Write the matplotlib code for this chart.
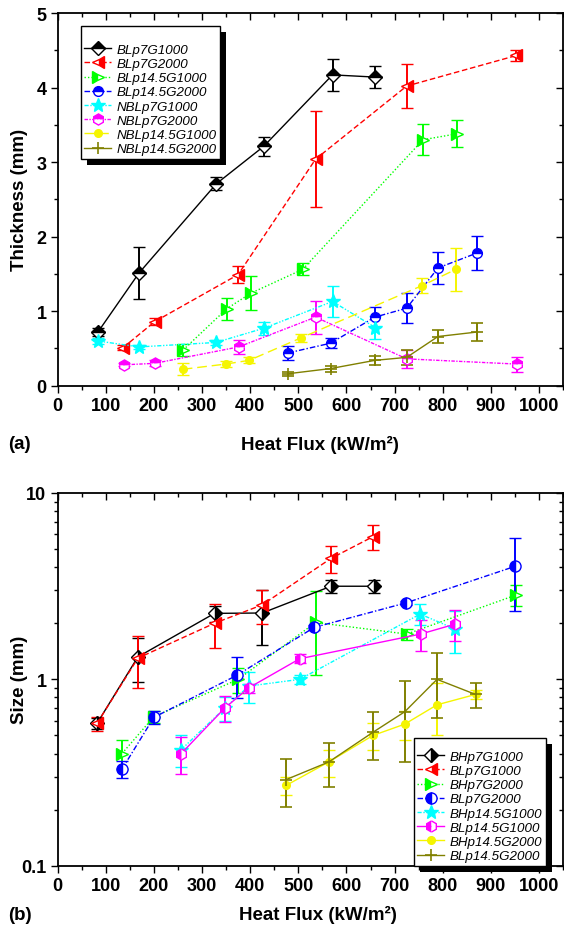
import matplotlib
matplotlib.use("Agg")
import matplotlib.pyplot as plt
from matplotlib.patches import Rectangle
from matplotlib.ticker import MultipleLocator, FixedLocator, LogLocator, NullFormatter, FixedFormatter

plt.rcParams['font.family'] = ['Liberation Sans', 'DejaVu Sans']

# ---------------- Panel (a): Thickness ----------------
a_labels = ["BLp7G1000", "BLp7G2000", "BLp14.5G1000", "BLp14.5G2000",
            "NBLp7G1000", "NBLp7G2000", "NBLp14.5G1000", "NBLp14.5G2000"]
a_x = [
    [84, 169, 330, 428, 571, 660],
    [136, 202, 375, 536, 725, 953],
    [261, 351, 401, 509, 759, 830],
    [479, 567, 659, 725, 790, 871],
    [84, 169, 329, 428, 571, 660],
    [138, 202, 376, 536, 725, 954],
    [260, 349, 398, 505, 756, 827],
    [478, 567, 659, 725, 790, 871],
]
a_y = [
    [0.72, 1.51, 2.71, 3.21, 4.17, 4.14],
    [0.51, 0.86, 1.49, 3.04, 4.02, 4.43],
    [0.48, 1.03, 1.24, 1.56, 3.30, 3.38],
    [0.44, 0.57, 0.92, 1.04, 1.58, 1.78],
    [0.60, 0.52, 0.58, 0.77, 1.13, 0.78],
    [0.28, 0.30, 0.52, 0.92, 0.36, 0.29],
    [0.22, 0.29, 0.34, 0.64, 1.34, 1.56],
    [0.16, 0.23, 0.34, 0.38, 0.66, 0.72],
]
a_err = [
    [0.05, 0.35, 0.09, 0.13, 0.21, 0.15],
    [0.03, 0.05, 0.11, 0.64, 0.29, 0.07],
    [0.08, 0.15, 0.23, 0.08, 0.21, 0.18],
    [0.09, 0.07, 0.13, 0.20, 0.21, 0.23],
    [0.04, 0.03, 0.03, 0.09, 0.21, 0.16],
    [0.02, 0.04, 0.09, 0.22, 0.12, 0.10],
    [0.08, 0.04, 0.04, 0.06, 0.10, 0.29],
    [0.03, 0.04, 0.06, 0.10, 0.085, 0.12],
]

# ---------------- Panel (b): Size ----------------
b_labels = ["BHp7G1000", "BLp7G1000", "BHp7G2000", "BLp7G2000",
            "BHp14.5G1000", "BLp14.5G1000", "BHp14.5G2000", "BLp14.5G2000"]
b_x = [
    [82, 167, 326, 425, 568, 657],
    [82, 167, 326, 425, 568, 655],
    [134, 200, 375, 536, 725, 953],
    [134, 200, 372, 533, 723, 950],
    [257, 347, 397, 503, 753, 826],
    [257, 347, 397, 503, 754, 826],
    [475, 563, 655, 721, 788, 868],
    [475, 563, 655, 721, 788, 868],
]
b_y = [
    [0.58, 1.32, 2.26, 2.27, 3.16, 3.16],
    [0.58, 1.30, 2.00, 2.51, 4.46, 5.83],
    [0.40, 0.63, 1.00, 2.02, 1.75, 2.84],
    [0.33, 0.625, 1.05, 1.90, 2.57, 4.04],
    [0.42, 0.70, 0.92, 1.00, 2.24, 1.86],
    [0.40, 0.70, 0.90, 1.29, 1.75, 1.98],
    [0.27, 0.36, 0.50, 0.575, 0.73, 0.83],
    [0.29, 0.36, 0.52, 0.67, 1.00, 0.83],
]
b_err = [
    [0.04, 0.35, 0.23, 0.74, 0.26, 0.26],
    [0.05, 0.40, 0.53, 0.52, 0.73, 0.88],
    [0.07, 0.05, 0.15, 0.96, 0.12, 0.37],
    [0.035, 0.05, 0.26, 0.05, 0.05, 1.70],
    [0.08, 0.10, 0.17, 0.06, 0.29, 0.48],
    [0.09, 0.11, 0.05, 0.07, 0.33, 0.37],
    [0.03, 0.06, 0.08, 0.10, 0.23, 0.05],
    [0.084, 0.094, 0.15, 0.31, 0.38, 0.125],
]

x_ticks = [0, 100, 200, 300, 400, 500, 600, 700, 800, 900, 1000]

colors = ['#000000', '#ff0000', '#00ff00', '#0000ff', '#00ffff', '#ff00ff', '#f5f500', '#808000']
a_markers = ['D', '<', '>', 'o', '*', 'h', 'o', '+']
a_fill = ['top', 'right', 'left', 'top', 'full', 'top', 'full', 'full']
a_ms = [7, 8, 8, 7, 10, 8, 5.5, 9]
a_ls = ['-', (0, (4, 2)), (0, (1, 1.5)), (0, (4, 1.5, 1, 1.5)), (0, (3, 1.2, 1, 1.2, 1, 1.2)),
        (0, (2.5, 1, 1, 1)), (0, (7, 3.5)), '-']
b_markers = ['D', '<', '>', 'o', '*', 'h', 'o', '+']
b_fill = ['right', 'right', 'left', 'left', 'full', 'left', 'full', 'full']
b_ms = [7, 8, 8, 8, 10, 8, 5.5, 9]
b_ls = ['-', (0, (4, 2)), (0, (1, 1.5)), (0, (4, 1.5, 1, 1.5)), (0, (3, 1.2, 1, 1.2, 1, 1.2)),
        '-', '-', '-']

W, H = 564, 929
fig = plt.figure(figsize=(W / 100, H / 100), dpi=100)
left_px = 57.5
xmax = 1050
ax_w = 505.7
ax_h = 372.7
axa = fig.add_axes([left_px / W, 1 - 386.7 / H, ax_w / W, ax_h / H])
axb = fig.add_axes([left_px / W, 1 - 866.7 / H, ax_w / W, ax_h / H])


def draw_series(ax, xs, ys, es, labels, markers, fills, ls_list, ms_list):
    handles = []
    for i in range(len(xs)):
        c = colors[i]
        mk = markers[i]
        fill = fills[i]
        ms = ms_list[i]
        kw = dict(color=c, lw=1.0, ls=ls_list[i], marker=mk, ms=ms,
                  markeredgecolor=c, markeredgewidth=1.0)
        if fill != 'full':
            kw.update(fillstyle=fill, markerfacecolor=c, markerfacecoloralt='white')
        else:
            kw.update(markerfacecolor=c)
        if mk == '+':
            kw.update(markeredgewidth=1.2)
        eb = ax.errorbar(xs[i], ys[i], yerr=es[i], ecolor=c, elinewidth=1.4,
                         capsize=4.2, capthick=1.2, label=labels[i], zorder=3, **kw)
        handles.append(eb[0])
    return handles


def style_axes(ax, log=False):
    for sp in ax.spines.values():
        sp.set_linewidth(1.3)
    ax.set_xlim(0, xmax)
    ax.xaxis.set_major_locator(FixedLocator(x_ticks))
    ax.xaxis.set_minor_locator(MultipleLocator(50))
    ax.tick_params(which='major', direction='out', length=5, width=1.0, labelsize=13, pad=3)
    ax.tick_params(which='minor', direction='out', length=3, width=1.0)
    for lab in ax.get_xticklabels() + ax.get_yticklabels():
        lab.set_fontweight('bold')
    # mirrored inward ticks on top/right
    axt = ax.twiny()
    axt.set_xlim(ax.get_xlim())
    axt.xaxis.set_major_locator(FixedLocator(x_ticks))
    axt.xaxis.set_minor_locator(MultipleLocator(50))
    axt.tick_params(which='major', direction='in', length=5, width=1.0, labeltop=False)
    axt.tick_params(which='minor', direction='in', length=3, width=1.0)
    axr = ax.twinx()
    if log:
        axr.set_yscale('log')
    axr.set_ylim(ax.get_ylim())
    if log:
        axr.yaxis.set_major_locator(LogLocator(base=10))
        axr.yaxis.set_minor_locator(LogLocator(base=10, subs=range(2, 10)))
        axr.yaxis.set_minor_formatter(NullFormatter())
    else:
        axr.yaxis.set_major_locator(MultipleLocator(1))
        axr.yaxis.set_minor_locator(MultipleLocator(0.5))
    axr.tick_params(which='major', direction='in', length=5, width=1.0, labelright=False)
    axr.tick_params(which='minor', direction='in', length=3, width=1.0)
    for a2 in (axt, axr):
        for sp in a2.spines.values():
            sp.set_visible(False)


# ---- Panel a ----
ha = draw_series(axa, a_x, a_y, a_err, a_labels, a_markers, a_fill, a_ls, a_ms)
axa.set_ylim(0, 5)
axa.yaxis.set_major_locator(MultipleLocator(1))
axa.yaxis.set_minor_locator(MultipleLocator(0.5))
style_axes(axa, log=False)
axa.set_ylabel('Thickness (mm)', fontsize=13.5, fontweight='bold')
axa.yaxis.label.set_va('center')
axa.yaxis.set_label_coords((20 - left_px) / ax_w, 0.5)
axa.set_xlabel('Heat Flux (kW/m²)', fontsize=13.5, fontweight='bold')
axa.xaxis.label.set_va('center')
axa.xaxis.set_label_coords((320 - left_px) / ax_w, (386.7 - 445) / ax_h)
fig.text(8 / W, 1 - 445 / H, '(a)', fontsize=13.5, fontweight='bold', ha='left', va='center')

# ---- Panel b ----
hb = draw_series(axb, b_x, b_y, b_err, b_labels, b_markers, b_fill, b_ls, b_ms)
axb.set_yscale('log')
axb.set_ylim(0.1, 10)
axb.yaxis.set_major_locator(FixedLocator([0.1, 1, 10]))
axb.yaxis.set_major_formatter(FixedFormatter(['0.1', '1', '10']))
axb.yaxis.set_minor_locator(LogLocator(base=10, subs=range(2, 10)))
axb.yaxis.set_minor_formatter(NullFormatter())
style_axes(axb, log=True)
axb.set_ylabel('Size (mm)', fontsize=13.5, fontweight='bold')
axb.yaxis.label.set_va('center')
axb.yaxis.set_label_coords((20 - left_px) / ax_w, 0.5)
axb.set_xlabel('Heat Flux (kW/m²)', fontsize=13.5, fontweight='bold')
axb.xaxis.label.set_va('center')
axb.xaxis.set_label_coords((318 - left_px) / ax_w, (866.7 - 915) / ax_h)
fig.text(8 / W, 1 - 916 / H, '(b)', fontsize=13.5, fontweight='bold', ha='left', va='center')


def make_legend(ax, handles, labels, anchor, title_size):
    leg = ax.legend(handles, labels, loc='upper left', bbox_to_anchor=anchor,
                    borderaxespad=0, frameon=True, fancybox=False, framealpha=1,
                    edgecolor='black', prop=dict(size=9.6, style='italic'),
                    labelspacing=0.14, handlelength=2.0, handletextpad=0.45,
                    borderpad=0.25, title=' ', title_fontsize=title_size)
    leg.get_frame().set_linewidth(1.0)
    leg.set_zorder(10)
    return leg


lega = make_legend(axa, ha, a_labels, ((81 - left_px) / ax_w, 1 - (27.3 - 14) / ax_h), 8.5)
legb = make_legend(axb, hb, b_labels, ((414 - left_px) / ax_w, 1 - (739.3 - 494) / ax_h), 5.5)

fig.canvas.draw()
for ax, leg in ((axa, lega), (axb, legb)):
    bb = leg.get_window_extent()
    off = 6
    r = Rectangle(((bb.x0 + off) / W, (bb.y0 - off) / H), bb.width / W, bb.height / H,
                  transform=fig.transFigure, facecolor='black', edgecolor='none',
                  zorder=9, clip_on=False)
    ax.add_patch(r)

fig.savefig('out.png', dpi=100)
